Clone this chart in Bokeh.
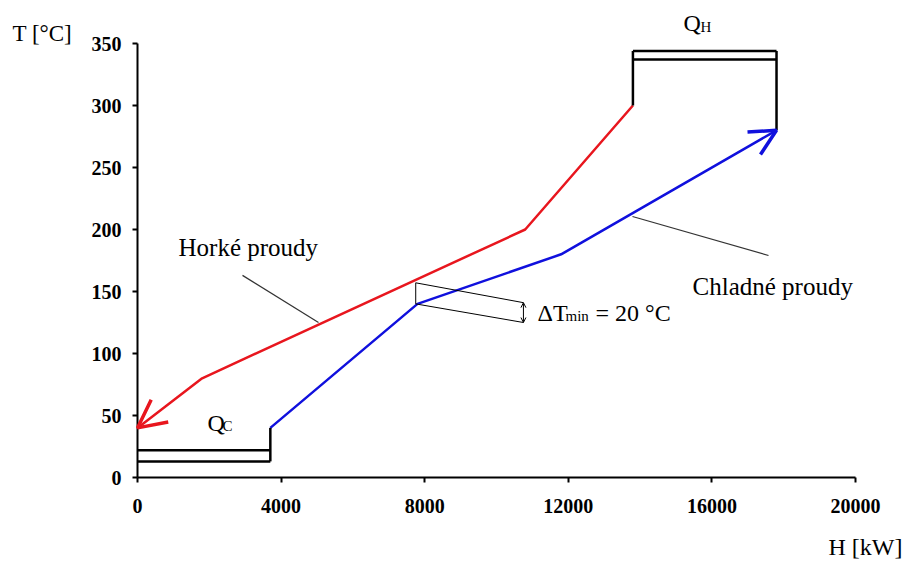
from bokeh.plotting import figure
from bokeh.models import Range1d, FixedTicker, Arrow, OpenHead, Label
from bokeh.embed import file_html
from bokeh.resources import INLINE

# ---- data ----
hot_H = [13800, 10800, 1800, 0]
hot_T = [300, 200, 80, 40]
cold_H = [3700, 7800, 11800, 17800]
cold_T = [40, 140, 180, 280]
qh_H = [13800, 17800]
qh_T = [344, 337]
qc_H = [0, 3700]
qc_T = [22, 13]
pinch_H = [7750, 10750]
pinch_hot_T = [157, 141]
pinch_cold_T = [140, 125]
x_ticks = [0, 4000, 8000, 12000, 16000, 20000]
y_ticks = [0, 50, 100, 150, 200, 250, 300, 350]

RED = "#e8161e"
BLUE = "#1010dd"
FONT = "Liberation Serif"

W, H = 905, 561
# frame covers the whole canvas; axes drawn at fixed data locations
px_x = 20000 / 718.0
px_y = 350 / 434.0
x0, x1 = -137 * px_x, 20000 + 50 * px_x
y0, y1 = -84 * px_y, 350 + 43 * px_y

p = figure(width=W, height=H, output_backend="svg", toolbar_location=None, title=None,
           x_range=Range1d(x0, x1), y_range=Range1d(y0, y1),
           min_border_left=0, min_border_right=0, min_border_top=0, min_border_bottom=0)
p.outline_line_color = None
p.grid.grid_line_color = None
p.background_fill_color = "white"
p.border_fill_color = "white"

for ax, ticks, bnds in ((p.xaxis[0], x_ticks, (0, 20000)), (p.yaxis[0], y_ticks, (0, 350))):
    ax.ticker = FixedTicker(ticks=ticks)
    ax.fixed_location = 0
    ax.bounds = bnds
    ax.axis_line_width = 2
    ax.axis_line_color = "black"
    ax.major_tick_line_width = 2
    ax.major_tick_out = 5
    ax.major_tick_in = 0
    ax.minor_tick_line_color = None
    ax.major_label_text_font = FONT
    ax.major_label_text_font_style = "bold"
    ax.major_label_text_font_size = "20px"
    ax.major_label_text_color = "black"
p.xaxis[0].major_label_standoff = 16
p.yaxis[0].major_label_standoff = 11

# main curves
p.line(hot_H, hot_T, line_color=RED, line_width=2.5)
p.line(cold_H, cold_T, line_color=BLUE, line_width=2.5)
p.add_layout(Arrow(end=OpenHead(size=28, line_color=RED, line_width=3.5),
                   x_start=hot_H[-2], y_start=hot_T[-2], x_end=hot_H[-1], y_end=hot_T[-1],
                   line_alpha=0))
p.add_layout(Arrow(end=OpenHead(size=26, line_color=BLUE, line_width=3.5),
                   x_start=cold_H[-2], y_start=cold_T[-2], x_end=cold_H[-1], y_end=cold_T[-1],
                   line_alpha=0))

# QH box
p.line([qh_H[0], qh_H[0]], [hot_T[0], qh_T[0]], line_color="black", line_width=2.5)
p.line([qh_H[1], qh_H[1]], [cold_T[-1], qh_T[0]], line_color="black", line_width=2.5)
p.line(qh_H, [qh_T[0], qh_T[0]], line_color="black", line_width=2.5)
p.line(qh_H, [qh_T[1], qh_T[1]], line_color="black", line_width=2.5)

# QC box
p.line(qc_H, [qc_T[0], qc_T[0]], line_color="black", line_width=2.5)
p.line(qc_H, [qc_T[1], qc_T[1]], line_color="black", line_width=2.5)
p.line([qc_H[1], qc_H[1]], [qc_T[1], cold_T[0]], line_color="black", line_width=2.5)

# pinch annotation
p.line([pinch_H[0], pinch_H[0]], [pinch_hot_T[0], pinch_cold_T[0]], line_color="black", line_width=1)
p.line(pinch_H, pinch_hot_T, line_color="black", line_width=1)
p.line(pinch_H, pinch_cold_T, line_color="black", line_width=1)
p.add_layout(Arrow(start=OpenHead(size=5, line_color="black", line_width=1),
                   end=OpenHead(size=5, line_color="black", line_width=1),
                   x_start=pinch_H[1], y_start=pinch_hot_T[1], x_end=pinch_H[1], y_end=pinch_cold_T[1],
                   line_color="black", line_width=1))

# leader lines
p.line([2925, 5042], [163, 125], line_color="#333333", line_width=1.2)
p.line([13788, 17577], [210.5, 179], line_color="#333333", line_width=1.2)

DY = 7.3  # vertical correction (about 9 px)

def lab(x, y, text, size="24px", align="left", dy=DY):
    p.add_layout(Label(x=x, y=y + dy, text=text, text_font=FONT, text_font_size=size,
                       text_align=align, text_baseline="alphabetic", text_color="black"))

lab(-3482, 350.8, "T [°C]", size="23px")
lab(21309, -63.7, "H [kW]", align="right")
lab(1142, 178.2, "Horké proudy", size="25px")
lab(15460, 146.8, "Chladné proudy", size="25px")
lab(15209, 358.9, "Q")
lab(15682, 356.3, "H", size="15px")
lab(1950, 36.3, "Q")
lab(2368, 33.9, "C", size="15px")
lab(11142, 124.2, "ΔT", dy=8.5)
lab(11922, 121.8, "min", size="15px", dy=8.5)
lab(12758, 124.2, "= 20 °C", dy=8.5)

open("out.html", "w").write(file_html(p, INLINE))
